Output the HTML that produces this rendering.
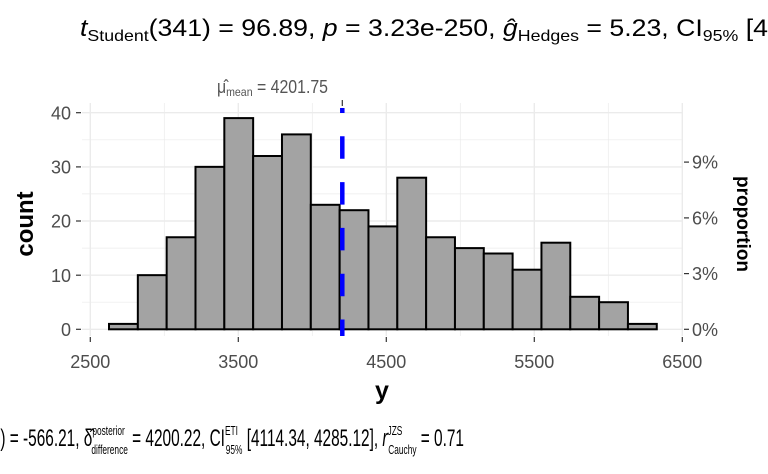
<!DOCTYPE html>
<html><head><meta charset="utf-8"><style>body{margin:0;background:#fff}svg{display:block}</style></head><body>
<svg width="768" height="474" viewBox="0 0 768 474" xmlns="http://www.w3.org/2000/svg" font-family="Liberation Sans, sans-serif">
<rect width="768" height="474" fill="#fff"/>
<g stroke="#ebebeb" stroke-width="0.7">
<line x1="82" x2="683" y1="302.2" y2="302.2"/><line x1="82" x2="683" y1="248.1" y2="248.1"/><line x1="82" x2="683" y1="193.9" y2="193.9"/><line x1="82" x2="683" y1="139.8" y2="139.8"/>
<line x1="164.3" x2="164.3" y1="103" y2="336"/><line x1="312.3" x2="312.3" y1="103" y2="336"/><line x1="460.3" x2="460.3" y1="103" y2="336"/><line x1="608.3" x2="608.3" y1="103" y2="336"/>
</g>
<g stroke="#ebebeb" stroke-width="1.4">
<line x1="82" x2="683" y1="329.3" y2="329.3"/><line x1="82" x2="683" y1="275.2" y2="275.2"/><line x1="82" x2="683" y1="221" y2="221"/><line x1="82" x2="683" y1="166.9" y2="166.9"/><line x1="82" x2="683" y1="112.7" y2="112.7"/>
<line x1="90.3" x2="90.3" y1="103" y2="336"/><line x1="238.3" x2="238.3" y1="103" y2="336"/><line x1="386.3" x2="386.3" y1="103" y2="336"/><line x1="534.3" x2="534.3" y1="103" y2="336"/><line x1="682.3" x2="682.3" y1="103" y2="336"/>
</g>
<g fill="#a3a3a3" stroke="#000" stroke-width="2">
<rect x="109" y="323.9" width="28.83" height="5.4"/>
<rect x="137.83" y="275.15" width="28.83" height="54.15"/>
<rect x="166.66" y="237.25" width="28.83" height="92.05"/>
<rect x="195.49" y="166.85" width="28.83" height="162.45"/>
<rect x="224.32" y="118.1" width="28.83" height="211.2"/>
<rect x="253.15" y="156.0" width="28.83" height="173.3"/>
<rect x="281.98" y="134.4" width="28.83" height="194.9"/>
<rect x="310.81" y="204.8" width="28.83" height="124.5"/>
<rect x="339.64" y="210.2" width="28.83" height="119.1"/>
<rect x="368.47" y="226.4" width="28.83" height="102.9"/>
<rect x="397.3" y="177.7" width="28.83" height="151.6"/>
<rect x="426.13" y="237.25" width="28.83" height="92.05"/>
<rect x="454.96" y="248.1" width="28.83" height="81.2"/>
<rect x="483.79" y="253.5" width="28.83" height="75.8"/>
<rect x="512.62" y="269.7" width="28.83" height="59.6"/>
<rect x="541.45" y="242.7" width="28.83" height="86.6"/>
<rect x="570.28" y="296.8" width="28.83" height="32.5"/>
<rect x="599.11" y="302.2" width="28.83" height="27.1"/>
<rect x="627.94" y="323.9" width="28.83" height="5.4"/>
</g>
<line x1="342.3" x2="342.3" y1="108" y2="336" stroke="#0000ff" stroke-width="4.5" stroke-dasharray="22.5,23.3" stroke-dashoffset="17.5"/>
<line x1="342.3" x2="342.3" y1="100" y2="106" stroke="#333" stroke-width="1.2"/>
<g stroke="#333" stroke-width="1.2">
<line x1="76" x2="81" y1="329.3" y2="329.3"/><line x1="76" x2="81" y1="275.2" y2="275.2"/><line x1="76" x2="81" y1="221" y2="221"/><line x1="76" x2="81" y1="166.9" y2="166.9"/><line x1="76" x2="81" y1="112.7" y2="112.7"/>
<line x1="90.3" x2="90.3" y1="337" y2="342"/><line x1="238.3" x2="238.3" y1="337" y2="342"/><line x1="386.3" x2="386.3" y1="337" y2="342"/><line x1="534.3" x2="534.3" y1="337" y2="342"/><line x1="682.3" x2="682.3" y1="337" y2="342"/>
<line x1="684" x2="689" y1="329.3" y2="329.3"/><line x1="684" x2="689" y1="273.6" y2="273.6"/><line x1="684" x2="689" y1="217.9" y2="217.9"/><line x1="684" x2="689" y1="162.1" y2="162.1"/>
</g>
<g fill="#4d4d4d" font-size="18" text-anchor="end">
<text x="71" y="336">0</text><text x="71" y="282">10</text><text x="71" y="227.5">20</text><text x="71" y="173.5">30</text><text x="71" y="119.5">40</text>
</g>
<g fill="#4d4d4d" font-size="18" text-anchor="start">
<text x="692" y="336">0%</text><text x="692" y="280">3%</text><text x="692" y="224.5">6%</text><text x="692" y="168.5">9%</text>
</g>
<g fill="#4d4d4d" font-size="18" text-anchor="middle">
<text x="90.3" y="368">2500</text><text x="238.3" y="368">3500</text><text x="386.3" y="368">4500</text><text x="534.3" y="368">5500</text><text x="682.3" y="368">6500</text>
</g>
<text x="382" y="399" font-size="25" font-weight="bold" text-anchor="middle">y</text>
<text transform="translate(33,224) rotate(-90)" font-size="24" font-weight="bold" text-anchor="middle">count</text>
<text transform="translate(737,224) rotate(90)" font-size="19" font-weight="bold" text-anchor="middle">proportion</text>
<text x="217" y="93" font-size="18" fill="#555" textLength="111" lengthAdjust="spacingAndGlyphs">μ̂<tspan font-size="12" dy="3">mean</tspan><tspan dy="-3"> = 4201.75</tspan></text>
<text x="80" y="36" font-size="24" fill="#000" textLength="688" lengthAdjust="spacingAndGlyphs"><tspan font-style="italic">t</tspan><tspan font-size="16" dy="5">Student</tspan><tspan dy="-5">(341) = 96.89, </tspan><tspan font-style="italic">p</tspan> = 3.23e-250, <tspan font-style="italic">ĝ</tspan><tspan font-size="16" dy="5">Hedges</tspan><tspan dy="-5"> = 5.23, CI</tspan><tspan font-size="16" dy="5">95%</tspan><tspan dy="-5"> [4</tspan></text>
<text x="-14" y="446" font-size="24" fill="#000" textLength="478" lengthAdjust="spacingAndGlyphs">(<tspan font-size="13" dy="3">01</tspan><tspan dy="-3">) = -566.21, </tspan><tspan>δ̂</tspan><tspan font-size="13" dy="-11">posterior</tspan><tspan font-size="13" dx="-52" dy="19">difference</tspan><tspan dy="-8"> = 4200.22, CI</tspan><tspan font-size="13" dy="-11">ETI</tspan><tspan font-size="13" dx="-19" dy="19">95%</tspan><tspan dy="-8"> [4114.34, 4285.12], </tspan><tspan font-style="italic">r</tspan><tspan font-size="13" dy="-11">JZS</tspan><tspan font-size="13" dx="-22" dy="19">Cauchy</tspan><tspan dy="-8"> = 0.71</tspan></text>
</svg>
</body></html>
